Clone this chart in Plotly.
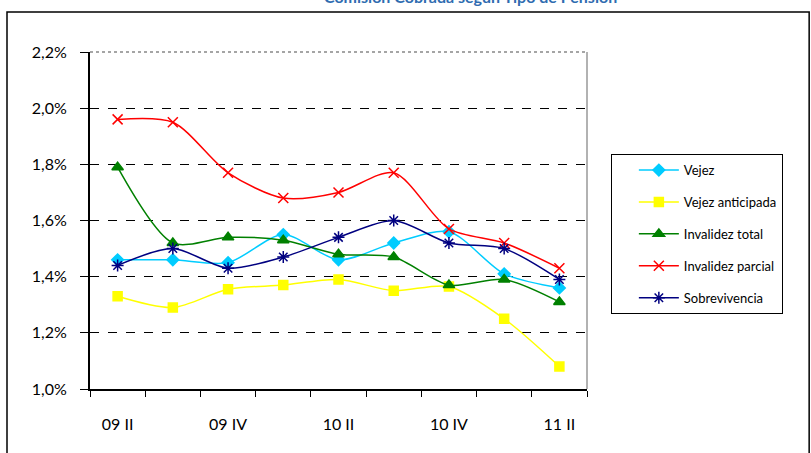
import plotly.graph_objects as go

# quarters (09 II .. 11 II)
quarters = ["09 II", "09 III", "09 IV", "10 I", "10 II", "10 III", "10 IV", "11 I", "11 II"]
tick_labels = ["09 II", "", "09 IV", "", "10 II", "", "10 IV", "", "11 II"]

vejez = [1.46, 1.46, 1.45, 1.55, 1.46, 1.52, 1.56, 1.41, 1.36]
vejez_anticipada = [1.33, 1.29, 1.355, 1.37, 1.39, 1.35, 1.365, 1.25, 1.08]
invalidez_total = [1.79, 1.52, 1.54, 1.53, 1.48, 1.47, 1.37, 1.39, 1.31]
invalidez_parcial = [1.96, 1.95, 1.77, 1.68, 1.70, 1.77, 1.57, 1.52, 1.43]
sobrevivencia = [1.44, 1.50, 1.43, 1.47, 1.54, 1.60, 1.52, 1.50, 1.39]

series = [
    ("Vejez", vejez, "#00CCFF", "diamond", 9),
    ("Vejez anticipada", vejez_anticipada, "#FFFF00", "square", 9),
    ("Invalidez total", invalidez_total, "#008000", "triangle-up", 10),
    ("Invalidez parcial", invalidez_parcial, "#FF0000", "x-thin-open", 10),
    ("Sobrevivencia", sobrevivencia, "#000080", "asterisk-open", 10),
]

fig = go.Figure()
for i, (name, vals, color, symbol, size) in enumerate(series):
    fig.add_trace(go.Scatter(
        x=quarters,
        y=[v / 100 for v in vals],
        name=name,
        mode="lines+markers",
        line=dict(color=color, width=1.5, shape="spline", smoothing=0.8),
        marker=dict(symbol=symbol, size=size, color=color, line=dict(color=color, width=1.5)),
        legendgroup=str(i),
        cliponaxis=False,
    ))

font = "Lato, 'Open Sans', Arial, sans-serif"

fig.update_layout(
    width=811, height=453,
    margin=dict(l=90, r=224, t=52, b=64),
    paper_bgcolor="white",
    plot_bgcolor="white",
    separators=",.",
    font=dict(family=font, size=16, color="black"),
    showlegend=True,
    legend=dict(
        x=1.048, y=0.697, xanchor="left", yanchor="top",
        bordercolor="black", borderwidth=1,
        font=dict(size=13, color="black"),
        tracegroupgap=12,
        itemwidth=40,
        indentation=22,
        entrywidth=145,
    ),
    xaxis=dict(
        type="category",
        tickmode="array", tickvals=quarters, ticktext=tick_labels,
        tickson="boundaries", ticks="outside", ticklen=6, tickcolor="black", tickwidth=1,
        ticklabelstandoff=20,
        showline=True, linecolor="black", linewidth=2,
        showgrid=False, mirror=False,
        range=[-0.5, 8.5],
        tickfont=dict(size=16),
    ),
    yaxis=dict(
        range=[0.010, 0.022], dtick=0.002, tick0=0.010,
        tickformat=".1%",
        ticks="outside", ticklen=8, tickcolor="black",
        ticklabelstandoff=10,
        showline=True, linecolor="black", linewidth=2,
        showgrid=True, gridcolor="black", griddash="dash", gridwidth=1,
        zeroline=False,
        tickfont=dict(size=16),
    ),
)

# plot area right/top edges in gray
fig.add_shape(type="line", xref="paper", yref="paper", x0=1, x1=1, y0=0, y1=1,
              line=dict(color="#999999", width=1.5))
fig.add_shape(type="line", xref="paper", yref="paper", x0=0, x1=1, y0=1, y1=1,
              line=dict(color="#888888", width=1.5, dash="dot"))

# outer chart frame
fig.add_shape(type="rect", xref="paper", yref="paper",
              x0=-0.167, x1=1.447, y0=-0.25, y1=1.119,
              line=dict(color="black", width=1.5), layer="below")

fig.add_annotation(
    text="<b>Comisión Cobrada según Tipo de Pensión</b>",
    xref="paper", yref="paper", x=0.765, y=1.166,
    xanchor="center", yanchor="middle", showarrow=False,
    font=dict(family=font, size=16, color="#2F6CB0"),
)

fig.write_html("out.html", config={"displayModeBar": False},
               post_script="document.body.style.margin='0px';")
